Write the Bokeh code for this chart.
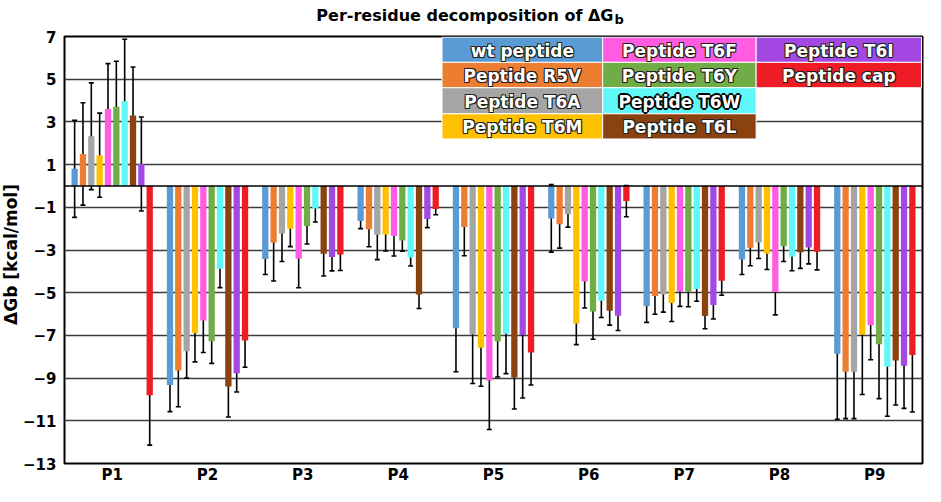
import numpy as np
from bokeh.plotting import figure
from bokeh.models import ColumnDataSource, Whisker, TeeHead, FixedTicker, Label, Span, Range1d
from bokeh.core.properties import value
from bokeh.embed import file_html
from bokeh.resources import INLINE

# ---------------- data ----------------
residues = ["P1", "P2", "P3", "P4", "P5", "P6", "P7", "P8", "P9"]
series_names = ["wt peptide", "Peptide R5V", "Peptide T6A", "Peptide T6M", "Peptide T6F",
                "Peptide T6Y", "Peptide T6W", "Peptide T6L", "Peptide T6I", "Peptide cap"]
colors = ["#5B9BD5", "#ED7D31", "#A5A5A5", "#FFC000", "#FF5CE1",
          "#70AD47", "#5FF7F7", "#8B4211", "#A448E3", "#EE1C25"]

wt_peptide = [0.80, -9.32, -3.42, -1.64, -6.67, -1.52, -5.62, -3.45, -7.86]
wt_peptide_err = [2.27, 1.25, 0.73, 0.36, 2.03, 1.58, 0.77, 0.70, 3.07]
r5v = [1.50, -8.64, -2.65, -2.03, -1.92, -1.79, -5.15, -2.89, -8.70]
r5v_err = [2.40, 1.70, 1.80, 0.82, 1.35, 1.12, 0.86, 0.85, 2.20]
t6a = [2.33, -7.74, -2.23, -2.29, -6.95, -1.33, -5.09, -2.65, -8.70]
t6a_err = [2.50, 1.26, 1.31, 1.16, 2.30, 0.60, 0.82, 0.75, 2.20]
t6m = [1.44, -6.89, -2.00, -2.27, -7.58, -6.44, -5.48, -3.17, -6.97]
t6m_err = [1.97, 1.35, 0.84, 0.77, 1.80, 0.99, 0.87, 0.74, 2.80]
t6f = [3.60, -6.30, -3.41, -2.35, -9.11, -4.47, -4.94, -4.97, -6.52]
t6f_err = [2.13, 1.50, 1.36, 0.93, 2.30, 1.25, 0.70, 1.07, 1.62]
t6y = [3.71, -7.27, -1.88, -2.55, -7.27, -5.88, -4.94, -2.82, -7.41]
t6y_err = [2.13, 1.04, 0.84, 0.51, 1.68, 1.30, 0.72, 0.72, 2.55]
t6w = [3.97, -3.88, -1.06, -3.35, -6.92, -5.38, -4.83, -3.30, -8.47]
t6w_err = [2.90, 0.88, 0.63, 0.40, 1.87, 0.78, 0.57, 0.67, 2.32]
t6l = [3.30, -9.39, -3.18, -5.08, -8.97, -5.85, -6.09, -3.11, -8.17]
t6l_err = [2.27, 1.43, 1.04, 0.66, 1.48, 0.67, 0.60, 0.75, 2.09]
t6i = [1.03, -8.77, -3.33, -1.55, -6.98, -6.08, -5.58, -2.88, -8.42]
t6i_err = [2.20, 0.88, 0.65, 0.40, 2.95, 0.69, 0.65, 0.77, 2.00]
cap = [-9.80, -7.24, -3.21, -1.08, -7.80, -0.71, -4.44, -3.08, -7.92]
cap_err = [2.34, 1.25, 0.75, 0.27, 1.52, 0.73, 0.68, 0.85, 2.67]

y_ticks = [-13, -11, -9, -7, -5, -3, -1, 1, 3, 5, 7]

values_all = [wt_peptide, r5v, t6a, t6m, t6f, t6y, t6w, t6l, t6i, cap]
errors_all = [wt_peptide_err, r5v_err, t6a_err, t6m_err, t6f_err, t6y_err,
              t6w_err, t6l_err, t6i_err, cap_err]

# legend layout (column-major, 3 columns x 4 rows)
legend_cols = [[0, 1, 2, 3], [4, 5, 6, 7], [8, 9]]
legend_x_edges = [4.46, 6.145, 7.755, 9.49]
legend_y_edges = [6.97, 5.79, 4.60, 3.38, 2.20]

FONT = "DejaVu Sans"

p = figure(width=925, height=486, output_backend="svg", toolbar_location=None,
           x_range=Range1d(0.5, 9.5), y_range=Range1d(-13, 7),
           min_border_left=61, min_border_right=3, min_border_top=36, min_border_bottom=18,
           title=None)

p.outline_line_color = "black"
p.outline_line_width = 2
p.background_fill_color = "white"
p.border_fill_color = "white"

p.xgrid.visible = False
p.ygrid.ticker = FixedTicker(ticks=y_ticks)
p.ygrid.grid_line_color = "#3c3c3c"
p.ygrid.grid_line_width = 1.3

p.yaxis.ticker = FixedTicker(ticks=y_ticks)
p.yaxis.axis_line_color = None
p.yaxis.major_tick_line_color = None
p.yaxis.minor_tick_line_color = None
p.yaxis.major_tick_out = 0
p.yaxis.major_tick_in = 0
p.yaxis.major_label_standoff = 8
p.yaxis.major_label_text_font = FONT
p.yaxis.major_label_text_font_style = "bold"
p.yaxis.major_label_text_font_size = "15px"
p.yaxis.major_label_text_color = "black"

p.xaxis.ticker = FixedTicker(ticks=list(range(1, 10)))
p.xaxis.major_label_overrides = {i + 1: r for i, r in enumerate(residues)}
p.xaxis.axis_line_color = None
p.xaxis.major_tick_line_color = None
p.xaxis.minor_tick_line_color = None
p.xaxis.major_tick_out = 0
p.xaxis.major_tick_in = 0
p.xaxis.major_label_standoff = 2
p.xaxis.major_label_text_font = FONT
p.xaxis.major_label_text_font_style = "bold"
p.xaxis.major_label_text_font_size = "15px"
p.xaxis.major_label_text_color = "black"

p.add_layout(Span(location=0, dimension="width", line_color="black", line_width=1.5))

group_pos = np.arange(1, 10)
bar_step = 0.0875
bar_w = 0.066
for k, (vals, errs) in enumerate(zip(values_all, errors_all)):
    vals = np.array(vals)
    errs = np.array(errs)
    xs = group_pos + (k - 4.5) * bar_step
    src = ColumnDataSource(dict(x=xs, top=vals, upper=vals + errs, lower=vals - errs))
    p.vbar(x="x", top="top", bottom=0, width=bar_w, source=src,
           fill_color=colors[k], line_color=None)
    w = Whisker(source=src, base="x", upper="upper", lower="lower",
                line_color="black", line_width=1.6,
                upper_head=TeeHead(size=5, line_color="black", line_width=1.6),
                lower_head=TeeHead(size=5, line_color="black", line_width=1.6))
    p.add_layout(w)

# legend boxes
lx, lr, lt, lb, lc, tx, ty, tt = [], [], [], [], [], [], [], []
for ci, col in enumerate(legend_cols):
    for ri, k in enumerate(col):
        lx.append(legend_x_edges[ci]); lr.append(legend_x_edges[ci + 1])
        lt.append(legend_y_edges[ri]); lb.append(legend_y_edges[ri + 1])
        lc.append(colors[k])
        tx.append((legend_x_edges[ci] + legend_x_edges[ci + 1]) / 2)
        ty.append((legend_y_edges[ri] + legend_y_edges[ri + 1]) / 2)
        tt.append(series_names[k])
p.quad(left=lx, right=lr, top=lt, bottom=lb, fill_color=lc, line_color="white", line_width=1)

lsrc = ColumnDataSource(dict(x=tx, y=ty, t=tt))
for dx, dy in [(-1, -1), (1, -1), (-1, 1), (1, 1)]:
    p.text(x="x", y="y", text="t", source=lsrc, x_offset=dx, y_offset=dy + 1,
           text_font=value(FONT), text_font_style="bold", text_font_size="17px",
           text_color="#202020", text_align="center", text_baseline="middle")
# heavier glow for T6W
wsrc = ColumnDataSource(dict(x=[tx[6]], y=[ty[6]], t=[tt[6]]))
for dx, dy in [(-2, 0), (2, 0), (0, -2), (0, 2)]:
    p.text(x="x", y="y", text="t", source=wsrc, x_offset=dx, y_offset=dy + 1,
           text_font=value(FONT), text_font_style="bold", text_font_size="17px",
           text_color="black", text_align="center", text_baseline="middle")
p.text(x="x", y="y", text="t", source=lsrc, y_offset=1,
       text_font=value(FONT), text_font_style="bold", text_font_size="17px",
       text_color="white", text_align="center", text_baseline="middle")

# title (with subscript b) -- placed in side panels so they are not clipped to the frame
p.add_layout(Label(x=613, y=15, x_units="canvas", y_units="canvas",
                   text="Per-residue decomposition of ΔG", text_font=FONT,
                   text_font_style="bold", text_font_size="16px", text_color="black",
                   text_align="right", text_baseline="alphabetic"), "above")
p.add_layout(Label(x=614, y=19, x_units="canvas", y_units="canvas",
                   text="b", text_font=FONT,
                   text_font_style="bold", text_font_size="13px", text_color="black",
                   text_align="left", text_baseline="alphabetic"), "above")

# y-axis label (rotated)
p.add_layout(Label(x=10, y=254, x_units="canvas", y_units="canvas", angle=np.pi / 2,
                   text="ΔGb [kcal/mol]", text_font=FONT, text_font_style="bold",
                   text_font_size="17px", text_color="black",
                   text_align="center", text_baseline="middle"), "left")

open("out.html", "w").write(file_html(p, INLINE))
